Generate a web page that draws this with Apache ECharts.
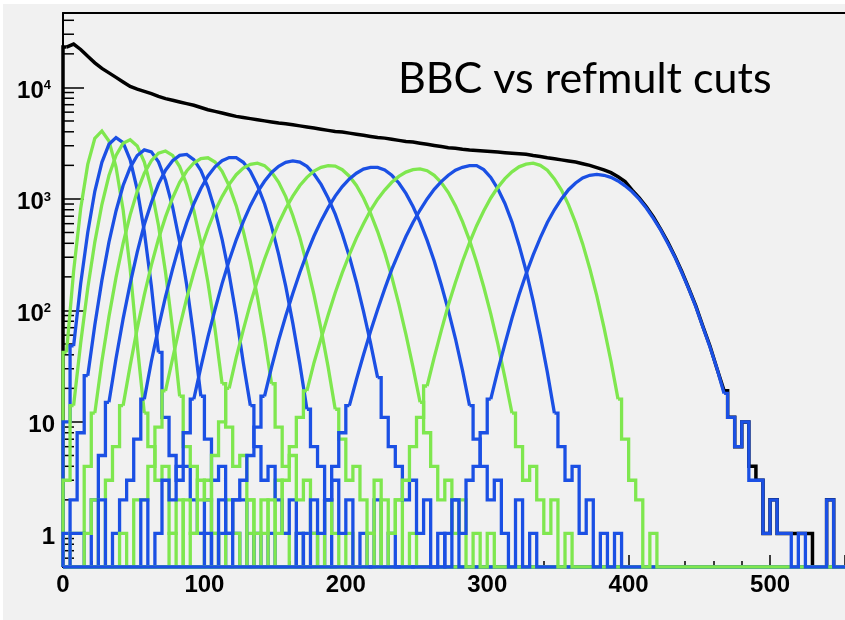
<!DOCTYPE html>
<html><head><meta charset="utf-8">
<script src="https://cdn.jsdelivr.net/npm/echarts@6/dist/echarts.min.js"></script>
<style>html,body{margin:0;padding:0;background:#f1f1f1}#c{width:845px;height:620px}</style>
</head><body><div id="c"></div>
<script>
// ---- data (bin width 5 units, counts per bin, 0 = empty bin) ----
const BIN = 5;
const X_MAX = 553;
const Y_MIN = 0.5, Y_MAX = 46500;
const TITLE = 'BBC vs refmult cuts';
const Y_MINOR = [0.6,0.7,0.8,0.9,2,3,4,5,6,7,8,9,20,30,40,50,60,70,80,90,200,300,400,500,600,700,800,900,2000,3000,4000,5000,6000,7000,8000,9000,20000,30000,40000];

const totalStart = 0;
const total = [23000,24500,21900,19000,16600,14800,13500,12300,11200,10200,9660,9230,8810,8320,7940,7670,7410,7160,6920,6610,6310,6100,5890,5690,5500,5370,5250,5130,5010,4900,4790,4730,4620,4520,4420,4320,4220,4120,4030,3980,3890,3800,3720,3630,3550,3510,3430,3350,3270,3240,3160,3090,3020,2950,2880,2850,2790,2750,2720,2690,2660,2630,2600,2570,2540,2510,2450,2400,2340,2290,2240,2190,2140,2070,2000,1910,1820,1720,1580,1430,1200,1020,850,690,540,415,310,225,158,110,72,48,30,19,11,6,10,4,3,1,2,1,1,1,1,1,0,0,2,0,0];

const g1Start = 0;
const g1 = [42,224,820,2040,3500,4070,3310,1930,800,236,49,12,6,3,4,1,2,0,1,1,0,1];
const b1Start = 0;
const b1 = [10,48,174,500,1170,2130,3090,3550,3200,2240,1210,510,165,42,11,5,3,4,2,1,2,0,1,0,1];
const g2Start = 0;
const g2 = [3,14,51,158,410,890,1620,2460,3160,3390,2990,2140,1230,580,220,68,17,6,4,2,3,1,0,2,1,0,1];
const b2Start = 0;
const b2 = [1,2,8,26,74,186,410,780,1320,1910,2450,2750,2640,2150,1470,850,410,168,58,17,7,3,4,1,2,2,0,1,0,1];
const g3Start = 0;
const g3 = [0,1,1,4,12,35,88,198,400,720,1170,1700,2200,2570,2690,2460,1950,1340,790,405,178,68,22,9,4,5,2,1,2,0,3,1,0,1];
const b3Start = 5;
const b3 = [1,1,0,2,5,15,37,84,174,333,590,930,1360,1810,2200,2460,2510,2250,1800,1270,790,435,211,90,34,14,6,3,4,2,1,2,0,1,1,0,2];
const g4Start = 15;
const g4 = [1,2,0,3,6,14,32,69,138,255,437,690,1020,1410,1780,2100,2300,2340,2140,1770,1310,870,515,275,132,57,22,9,4,5,2,3,1,0,2,1,0,1];
const b4Start = 25;
const b4 = [2,0,1,2,3,7,16,35,70,133,235,395,615,905,1240,1610,1940,2200,2350,2350,2130,1770,1320,905,565,318,165,77,33,13,6,4,2,3,1,2,0,1,0,2,0,1];
const g5Start = 40;
const g5 = [1,0,2,2,4,9,19,37,71,129,219,355,540,780,1050,1350,1650,1890,2040,2090,1990,1740,1410,1050,710,450,258,138,68,31,13,7,3,4,2,1,3,0,1,2,0,1];
const b5Start = 55;
const b5 = [2,0,1,3,2,4,8,16,31,58,102,174,280,430,625,870,1150,1440,1730,1960,2130,2190,2140,1960,1670,1350,1020,730,485,305,179,98,51,25,11,6,4,2,3,1,2,0,1,0,2];
const g6Start = 75;
const g6 = [1,0,2,1,3,2,5,10,20,38,67,115,186,288,425,605,820,1060,1320,1560,1780,1920,1990,1970,1830,1600,1320,1020,740,510,330,200,114,61,31,15,8,4,2,3,1,2,0,1,0,1];
const b6Start = 100;
const b6 = [1,0,2,1,2,3,5,9,17,31,54,89,142,219,325,465,635,835,1060,1290,1510,1700,1850,1920,1920,1820,1630,1390,1120,855,620,425,277,170,100,56,29,14,7,4,2,3,1,0,2,0,1];
const g7Start = 130;
const g7 = [2,0,1,2,1,3,6,11,19,34,56,91,144,218,316,445,600,790,995,1200,1410,1590,1740,1830,1860,1790,1630,1400,1140,870,625,425,270,163,93,50,25,12,6,3,4,2,1,2,0,1];
const b7Start = 165;
const b7 = [1,0,2,1,2,4,8,14,24,40,65,102,156,233,330,460,615,795,1000,1220,1430,1630,1810,1920,1990,1990,1830,1560,1230,910,620,385,226,121,60,28,12,6,3,4,1,2,0,1,0,1];
const g8Start = 215;
const g8 = [1,0,2,1,2,3,6,11,21,38,66,112,178,275,405,575,780,1020,1270,1520,1750,1940,2050,2090,2000,1810,1510,1200,885,610,395,238,135,71,35,16,7,3,2,0,1];
const b8Start = 270;
const b8 = [1,2,1,3,4,8,16,29,50,85,138,213,315,447,615,800,1000,1210,1390,1540,1630,1660,1630,1560,1450,1310,1160,995,830,670,530,405,305,220,156,108,71,47,30,18,11,6,10,3,3,1,2,1,1,0,1,0,0,0,2,0];

const GREEN = '#7fe74f', BLUE = '#1b50e4', BLACK = '#000000';

// ---- build: smooth body through bin centres, low-count tails as histogram steps ----
const THRESH = 12;
function yv(c) { return c > 0 ? c : Y_MIN; }
function histSeries(start, counts, color, w) {
  const n = counts.length;
  let i0 = counts.findIndex(c => c >= THRESH);
  let i1 = n - 1;
  while (i1 > 0 && counts[i1] < THRESH) i1--;
  const edge = i => start + i * BIN;
  const mid = i => start + i * BIN + BIN / 2;
  const left = [[0, Y_MIN]];
  if (start > 0) left.push([start, Y_MIN]);
  for (let i = 0; i <= i0; i++) left.push([edge(i), yv(counts[i])]);
  left.push([mid(i0), yv(counts[i0])]);
  const body = [];
  for (let i = i0; i <= i1; i++) body.push([mid(i), yv(counts[i])]);
  const right = [[mid(i1), yv(counts[i1])]];
  for (let i = i1 + 1; i < n; i++) right.push([edge(i), yv(counts[i])]);
  right.push([edge(n), Y_MIN]);
  right.push([X_MAX, Y_MIN]);
  const base = { type: 'line', symbol: 'none', silent: true, animation: false, z: 3,
    lineStyle: { color: color, width: w, join: 'miter' } };
  return [
    Object.assign({}, base, { step: 'end', data: left }),
    Object.assign({}, base, { data: body }),
    Object.assign({}, base, { step: 'end', data: right })
  ];
}
const curves = [
  [totalStart, total, BLACK, 3.5],
  [g1Start, g1, GREEN, 3.3], [b1Start, b1, BLUE, 3.3],
  [g2Start, g2, GREEN, 3.3], [b2Start, b2, BLUE, 3.3],
  [g3Start, g3, GREEN, 3.3], [b3Start, b3, BLUE, 3.3],
  [g4Start, g4, GREEN, 3.3], [b4Start, b4, BLUE, 3.3],
  [g5Start, g5, GREEN, 3.3], [b5Start, b5, BLUE, 3.3],
  [g6Start, g6, GREEN, 3.3], [b6Start, b6, BLUE, 3.3],
  [g7Start, g7, GREEN, 3.3], [b7Start, b7, BLUE, 3.3],
  [g8Start, g8, GREEN, 3.3], [b8Start, b8, BLUE, 3.3]
];
const series = [
  { type: 'custom', silent: true, z: 2, data: Y_MINOR.map(v => [0, v]),
    renderItem: function (p, api) {
      const c = api.coord([0, api.value(1)]);
      return { type: 'line', shape: { x1: c[0], y1: c[1], x2: c[0] + 11, y2: c[1] },
        style: { stroke: '#000', lineWidth: 1.5 } };
    } }
];
curves.forEach(c => series.push(...histSeries(c[0], c[1], c[2], c[3])));

const chart = echarts.init(document.getElementById('c'), null, { renderer: 'canvas' });
const labelFont = { fontFamily: 'Liberation Sans', fontWeight: 'bold', fontSize: 24, color: '#000' };
chart.setOption({
  animation: false,
  backgroundColor: '#f1f1f1',
  grid: { left: 63, right: 0, top: 13, bottom: 53 },
  xAxis: [{
    type: 'value', min: 0, max: X_MAX, interval: 100,
    axisLine: { lineStyle: { color: '#000', width: 2 } },
    axisTick: { inside: true, length: 12, lineStyle: { color: '#000', width: 1.5 } },
    minorTick: { show: true, splitNumber: 5, length: 6, lineStyle: { color: '#000', width: 1.5 } },
    axisLabel: Object.assign({ margin: 6, showMaxLabel: false }, labelFont),
    splitLine: { show: false }, minorSplitLine: { show: false }
  }, {
    type: 'value', min: 0, max: X_MAX, position: 'top',
    axisLine: { show: true, lineStyle: { color: '#000', width: 2 } },
    axisTick: { show: false }, axisLabel: { show: false }, splitLine: { show: false }
  }],
  yAxis: {
    type: 'log', logBase: 10, min: Y_MIN, max: Y_MAX,
    axisLine: { show: true, lineStyle: { color: '#000', width: 2 } },
    axisTick: { inside: true, length: 21, lineStyle: { color: '#000', width: 1.5 } },
    splitLine: { show: false },
    axisLabel: Object.assign({
      margin: 8, showMinLabel: false, showMaxLabel: false, padding: [7, 0, 0, 0],
      formatter: function (v) {
        const e = Math.round(Math.log10(v));
        if (e === 0) return '1';
        if (e === 1) return '10';
        return '{b|10}{s|' + e + '}';
      },
      rich: {
        b: { fontFamily: 'Liberation Sans', fontWeight: 'bold', fontSize: 24, color: '#000' },
        s: { fontFamily: 'Liberation Sans', fontWeight: 'bold', fontSize: 13, color: '#000', verticalAlign: 'top', padding: [0, 4, 0, 0] }
      }
    }, labelFont)
  },
  graphic: [
    { type: 'rect', shape: { x: 0, y: 0, width: 845, height: 4 }, style: { fill: '#ffffff' }, silent: true },
    { type: 'rect', shape: { x: 0, y: 0, width: 3, height: 620 }, style: { fill: '#ffffff' }, silent: true },
    { type: 'text', left: 398, top: 58, z: 10,
      style: { text: TITLE, fill: '#000', fontFamily: 'Lato', fontSize: 43 } }
  ],
  series: series
});
</script></body></html>
